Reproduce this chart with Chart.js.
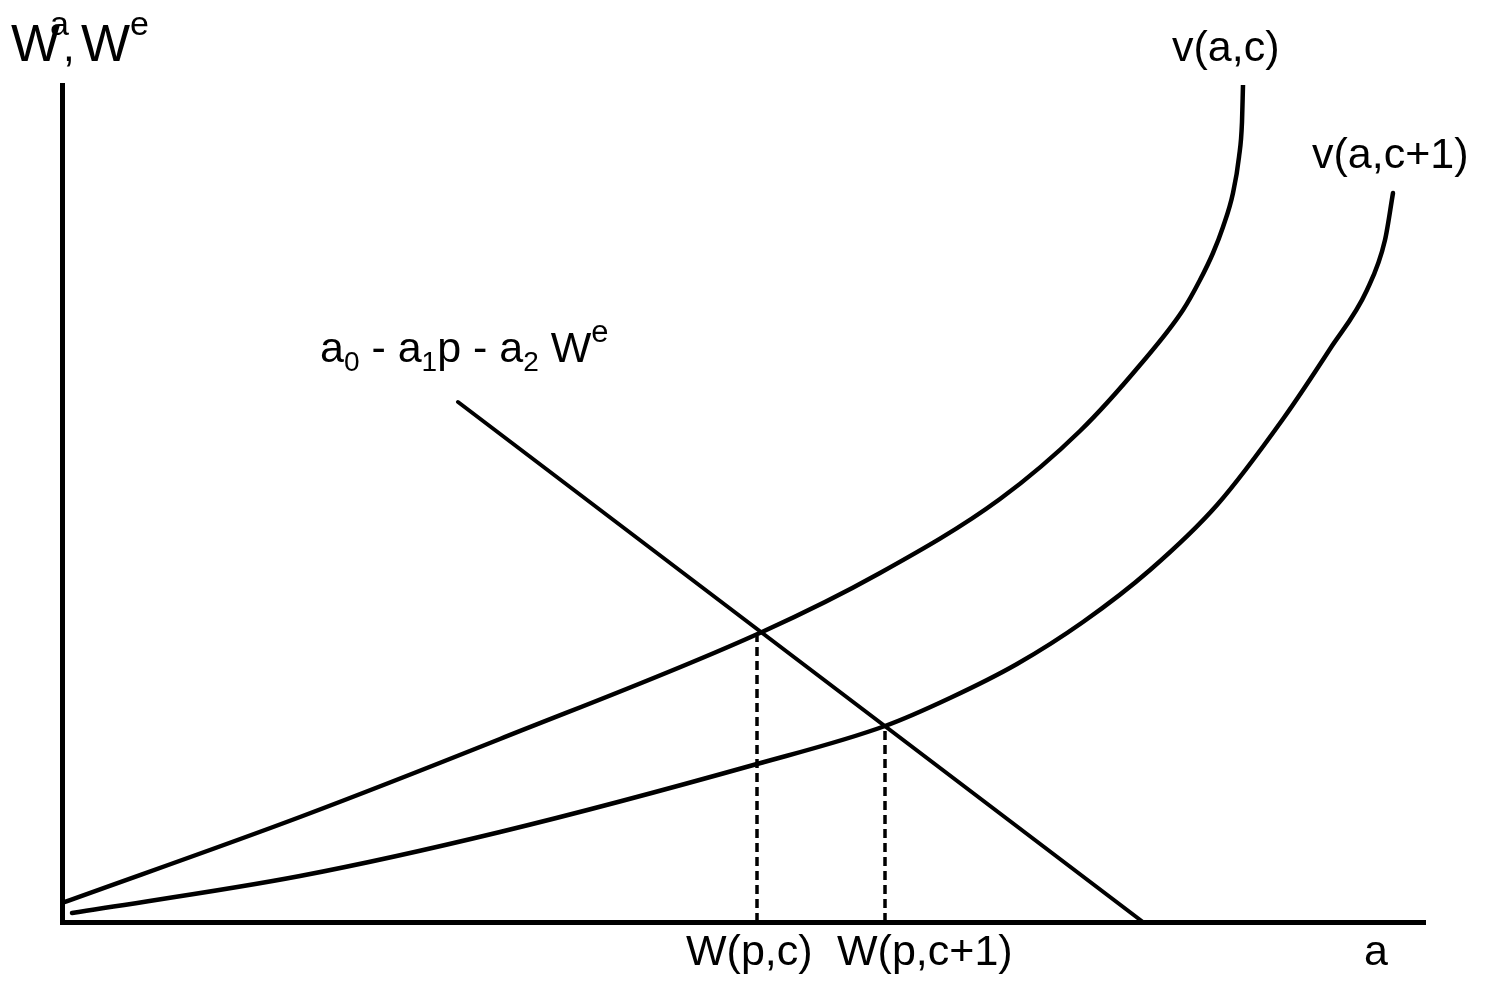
<!DOCTYPE html>
<html>
<head>
<meta charset="utf-8">
<script src="https://cdn.jsdelivr.net/npm/chart.js@4"></script>
<style>
  body { margin: 0; background: #fff; }
  #wrap { width: 1496px; height: 981px; position: relative; }
</style>
</head>
<body>
<div id="wrap"><canvas id="myChart"></canvas></div>
<script>
// values (a on x, W on y, arbitrary units)
const vcA  = [0, 238, 438, 700, 818, 938, 1018, 1078, 1121, 1138, 1151, 1161, 1171, 1177, 1180, 1181];
const vcW  = [19, 105, 183, 290, 349, 423, 491, 557, 612, 642, 669, 695, 729, 765, 800, 837];
const vc1A = [10, 238, 438, 695, 823, 888, 955, 1021, 1088, 1155, 1221, 1268, 1305, 1323, 1331];
const vc1W = [9, 46, 90, 158, 196, 224, 258, 300, 352, 417, 503, 573, 632, 682, 729];
const demandA = [396, 1081];
const demandW = [520, 0];
const eqA = [695, 823];   // W(p,c), W(p,c+1)
const eqW = [286, 194];

const pts = (xs, ys) => xs.map((x, i) => ({ x: x, y: ys[i] }));

const lineStyle = {
    borderColor: '#000',
    borderWidth: 4.5,
    pointRadius: 0,
    fill: false,
    borderCapStyle: 'round'
};
const dashStyle = { borderWidth: 3.5, borderDash: [9, 5], borderCapStyle: 'butt' };

// text labels drawn on top, with sub/superscripts
const labels = {
    id: 'labels',
    afterDraw(chart) {
        const c = chart.ctx;
        const fam = '"Liberation Sans", Arial, sans-serif';
        c.save();
        c.fillStyle = '#000';
        c.textBaseline = 'alphabetic';

        function txt(s, size, x, y) {
            c.font = size + 'px ' + fam;
            c.fillText(s, x, y);
        }
        // pieces [text, size, dy] drawn one after another
        function run(x, y, parts) {
            parts.forEach(p => {
                c.font = p[1] + 'px ' + fam;
                c.fillText(p[0], x, y + p[2]);
                x += c.measureText(p[0]).width;
            });
        }

        // W^a,W^e
        txt('W', 52, 11, 61);
        txt('a', 34, 50, 35);
        txt(',', 42, 63, 61);
        txt('W', 52, 81, 61);
        txt('e', 34, 130, 35);

        txt('v(a,c)', 43, 1172, 61);
        txt('v(a,c+1)', 43, 1312, 168);
        run(320, 362, [['a', 43, 0], ['0', 28, 9], [' - a', 43, 0], ['1', 28, 9], ['p - a', 43, 0],
                       ['2', 28, 9], [' W', 43, 0], ['e', 31, -20]]);
        txt('W(p,c)', 43, 686, 965);
        txt('W(p,c+1)', 43, 837, 965);
        txt('a', 43, 1364, 965);
        c.restore();
    }
};

const ctx = document.getElementById('myChart').getContext('2d');
const myChart = new Chart(ctx, {
    type: 'line',
    data: {
        datasets: [
            Object.assign({ label: 'v(a,c)', data: pts(vcA, vcW), cubicInterpolationMode: 'monotone' }, lineStyle),
            Object.assign({ label: 'v(a,c+1)', data: pts(vc1A, vc1W), cubicInterpolationMode: 'monotone' }, lineStyle),
            Object.assign({ label: 'demand', data: pts(demandA, demandW) }, lineStyle, { borderWidth: 4 }),
            Object.assign({ label: 'W(p,c)', data: [{ x: eqA[0], y: 0 }, { x: eqA[0], y: eqW[0] }] }, lineStyle, dashStyle),
            Object.assign({ label: 'W(p,c+1)', data: [{ x: eqA[1], y: 0 }, { x: eqA[1], y: eqW[1] }] }, lineStyle, dashStyle)
        ]
    },
    options: {
        responsive: true,
        maintainAspectRatio: false,
        animation: false,
        layout: { padding: { left: 62, right: 71, top: 85, bottom: 59 } },
        plugins: { legend: { display: false }, tooltip: { enabled: false } },
        scales: {
            x: {
                type: 'linear', min: 0, max: 1363,
                grid: { display: false, drawTicks: false },
                ticks: { display: false },
                border: { display: true, color: '#000', width: 5 }
            },
            y: {
                type: 'linear', min: 0, max: 837,
                grid: { display: false, drawTicks: false },
                ticks: { display: false },
                border: { display: true, color: '#000', width: 5 }
            }
        }
    },
    plugins: [labels]
});
</script>
</body>
</html>
